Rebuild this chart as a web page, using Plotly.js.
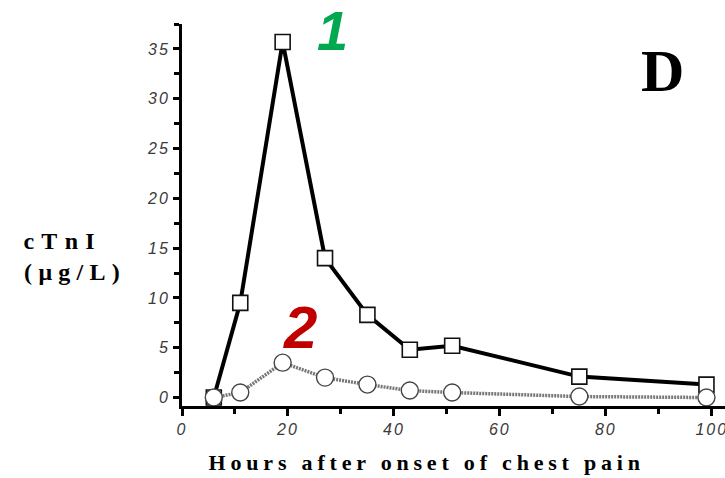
<!DOCTYPE html>
<html>
<head>
<meta charset="utf-8">
<script src="https://cdn.plot.ly/plotly-3.0.1.min.js"></script>
<style>
  html, body { margin: 0; padding: 0; background: #fff; }
  #chart { width: 725px; height: 478px; }
  .xtick text, .ytick text { letter-spacing: 2px; }
</style>
</head>
<body>
<div id="chart"></div>
<script>
// Sampling times (hours after onset of chest pain)
const hours = [6, 11, 19, 27, 35, 43, 51, 75, 99];
// cTnI concentration, µg/L
const patient1 = [0, 9.5, 35.7, 14.0, 8.3, 4.8, 5.2, 2.1, 1.3];
const patient2 = [0, 0.5, 3.5, 2.0, 1.3, 0.7, 0.5, 0.1, 0];
// Axis ticks
const xTicks = [0, 20, 40, 60, 80, 100];
const yTicks = [0, 5, 10, 15, 20, 25, 30, 35];

const traces = [
  {
    x: hours, y: patient1, type: 'scatter', mode: 'lines+markers',
    line: { color: '#000', width: 4 },
    marker: { symbol: 'square', size: 15, color: '#fff', line: { color: '#111', width: 1.6 } },
    cliponaxis: false, hoverinfo: 'skip'
  },
  {
    x: hours, y: patient2, type: 'scatter', mode: 'lines+markers',
    line: { color: '#777', width: 3.5, dash: '2px,1px' },
    marker: { symbol: 'circle', size: 17, color: '#fff', line: { color: '#444', width: 1.4 } },
    cliponaxis: false, hoverinfo: 'skip'
  }
];

const tickFont = { family: 'Liberation Sans, Arial, sans-serif', size: 16, color: '#3a3a3a', style: 'italic' };
const serifBold = { family: 'Liberation Serif, Times New Roman, serif', size: 22, color: '#000', weight: 'bold' };
const unitFont = { family: 'Liberation Serif, Times New Roman, serif', size: 24, color: '#000', weight: 'bold' };

const layout = {
  width: 725, height: 478,
  margin: { l: 182, r: 0, t: 24, b: 71.5 },
  paper_bgcolor: '#fff', plot_bgcolor: '#fff',
  showlegend: false,
  xaxis: {
    range: [0, 102.5], tickvals: xTicks, ticktext: xTicks.map(String),
    showline: true, linecolor: '#000', linewidth: 3,
    ticks: 'outside', ticklen: 7, tickwidth: 3, tickcolor: '#000',
    minor: { dtick: 10, tick0: 0, ticks: 'outside', ticklen: 5, tickwidth: 3, tickcolor: '#000' },
    showgrid: false, zeroline: false, tickfont: tickFont, fixedrange: true,
    ticklabeloverflow: 'allow'
  },
  yaxis: {
    range: [-0.85, 37.5], tickvals: yTicks, ticktext: yTicks.map(String),
    showline: true, linecolor: '#000', linewidth: 3,
    ticks: 'outside', ticklen: 6, tickwidth: 3, tickcolor: '#000',
    minor: { dtick: 2.5, tick0: 0, ticks: 'outside', ticklen: 5, tickwidth: 3, tickcolor: '#000' },
    showgrid: false, zeroline: false, tickfont: tickFont, fixedrange: true,
    ticklabeloverflow: 'allow'
  },
  annotations: [
    { text: 'Hours after onset of chest pain', xref: 'paper', yref: 'paper',
      x: 0.450, y: -0.148, xanchor: 'center', yanchor: 'middle', showarrow: false, font: serifBold },
    { text: 'cTnI', xref: 'paper', yref: 'paper',
      x: -0.2198, y: (406.5 - 241) / 382.5, xanchor: 'center', yanchor: 'middle', showarrow: false, font: unitFont },
    { text: '(μg/L)', xref: 'paper', yref: 'paper',
      x: -0.1977, y: (406.5 - 272) / 382.5, xanchor: 'center', yanchor: 'middle', showarrow: false, font: unitFont },
    { text: '1', xref: 'paper', yref: 'paper',
      x: 0.278, y: 0.982, xanchor: 'center', yanchor: 'middle', showarrow: false,
      font: { family: 'Liberation Sans, Arial, sans-serif', size: 56, color: '#00a84f', weight: 'bold', style: 'italic' } },
    { text: '2', xref: 'paper', yref: 'paper',
      x: 0.217, y: 0.205, xanchor: 'center', yanchor: 'middle', showarrow: false,
      font: { family: 'Liberation Sans, Arial, sans-serif', size: 60, color: '#c00000', weight: 'bold', style: 'italic' } },
    { text: 'D', xref: 'paper', yref: 'paper',
      x: 0.884, y: 0.877, xanchor: 'center', yanchor: 'middle', showarrow: false,
      font: { family: 'Liberation Serif, Times New Roman, serif', size: 60, color: '#000', weight: 'bold' } }
  ]
};

Plotly.newPlot('chart', traces, layout, { displayModeBar: false, staticPlot: true }).then(function (gd) {
  // widen the spacing of the multi-letter captions
  const spacing = { 'Hours after onset of chest pain': '4.8px', 'cTnI': '7.3px', '(μg/L)': '6.3px' };
  gd.querySelectorAll('.annotation-text').forEach(function (t) {
    const s = spacing[t.textContent];
    if (s) t.style.letterSpacing = s;
  });
});
</script>
</body>
</html>
